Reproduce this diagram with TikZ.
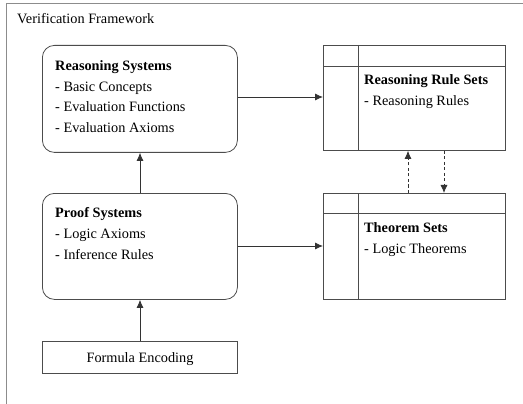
\documentclass[tikz,border=0pt]{standalone}
\usepackage{fontspec}
\setmainfont{Liberation Serif}
\usetikzlibrary{arrows.meta}
\begin{document}
\begin{tikzpicture}[x=1pt,y=-1pt,
  framecol/.style={draw=black!45,line width=0.9pt},
  rbox/.style={draw=black!70,line width=0.8pt,rounded corners=12pt,inner sep=0pt},
  tbox/.style={draw=black!70,line width=0.8pt,inner sep=0pt},
  rule/.style={draw=black!70,line width=0.8pt},
  txt/.style={anchor=base west,inner sep=0pt,font=\fontsize{14.3}{16}\selectfont},
  flow/.style={draw=black!80,line width=0.8pt,-{Latex[length=8pt,width=7pt]}},
  dflow/.style={flow,dashed,dash pattern=on 3pt off 2.5pt}]
\useasboundingbox (0,0) rectangle (523,404);
\fill[white] (0,0) rectangle (523,404);
% outer frame: top and left edges only
\draw[framecol] (523,3) -- (6,3) -- (6,404);
\node[txt] (title) at (17,24) {Verification Framework};

% left column
\node[rbox,minimum width=195pt,minimum height=107pt,anchor=north west] (rs) at (42,45) {};
\node[txt] (rs1) at (55,71) {\textbf{Reasoning Systems}};
\node[txt] (rs2) at (55,91.5) {- Basic Concepts};
\node[txt] (rs3) at (55,112) {- Evaluation Functions};
\node[txt] (rs4) at (55,132.5) {- Evaluation Axioms};

\node[rbox,minimum width=195pt,minimum height=106pt,anchor=north west] (ps) at (42,193) {};
\node[txt] (ps1) at (55,218) {\textbf{Proof Systems}};
\node[txt] (ps2) at (55,238.5) {- Logic Axioms};
\node[txt] (ps3) at (55,259) {- Inference Rules};

\node[tbox,minimum width=195pt,minimum height=32pt,anchor=north west] (fe) at (42,341) {};
\node[txt,anchor=base] (fet) at (140,362) {Formula Encoding};

% right column
\node[tbox,minimum width=182pt,minimum height=105pt,anchor=north west] (rrs) at (323,45) {};
\draw[rule] (323,66) -- (505,66);
\draw[rule] (358,45) -- (358,150);
\node[txt] (rrs1) at (364,85) {\textbf{Reasoning Rule Sets}};
\node[txt] (rrs2) at (364,106) {- Reasoning Rules};

\node[tbox,minimum width=182pt,minimum height=106pt,anchor=north west] (ts) at (323,193) {};
\draw[rule] (323,213) -- (505,213);
\draw[rule] (358,193) -- (358,299);
\node[txt] (ts1) at (364,233) {\textbf{Theorem Sets}};
\node[txt] (ts2) at (364,253) {- Logic Theorems};

% connectors
\draw[flow] (rs.east |- 0,97) -- (rrs.west |- 0,97);
\draw[flow] (ps.east |- 0,246) -- (ts.west |- 0,246);
\draw[flow] (fe.north -| 140,0) -- (ps.south -| 140,0);
\draw[flow] (ps.north -| 140,0) -- (rs.south -| 140,0);
\draw[dflow] (ts.north -| 408,0) -- (rrs.south -| 408,0);
\draw[dflow] (rrs.south -| 444,0) -- (ts.north -| 444,0);
\end{tikzpicture}
\end{document}
